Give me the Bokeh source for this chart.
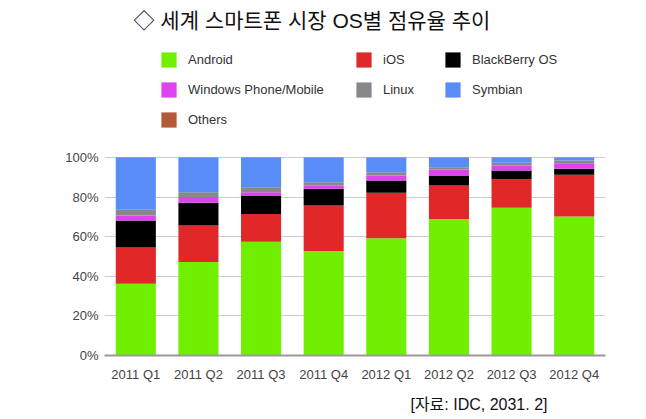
from bokeh.plotting import figure
from bokeh.models import (Legend, LegendItem, FixedTicker, PrintfTickFormatter,
                          Title, ColumnDataSource, FactorRange, Label)
from bokeh.embed import file_html
from bokeh.resources import INLINE

quarters = ["2011 Q1", "2011 Q2", "2011 Q3", "2011 Q4",
            "2012 Q1", "2012 Q2", "2012 Q3", "2012 Q4"]
android = [36.3, 47.2, 57.5, 52.8, 59.2, 69.0, 74.6, 70.2]
ios = [18.2, 18.5, 14.0, 23.0, 23.0, 16.9, 14.6, 21.1]
blackberry = [13.7, 11.4, 9.3, 8.4, 6.2, 4.7, 4.2, 3.0]
windows = [2.5, 2.9, 1.7, 1.7, 2.5, 3.3, 2.6, 2.8]
linux = [2.9, 2.5, 2.5, 1.6, 1.7, 1.2, 1.3, 1.4]
symbian = [26.2, 17.3, 14.8, 12.3, 7.2, 4.7, 2.5, 1.3]
others = [0.2, 0.2, 0.2, 0.2, 0.2, 0.2, 0.2, 0.2]
y_ticks = [0, 20, 40, 60, 80, 100]

series = ["Android", "iOS", "BlackBerry OS", "Windows Phone/Mobile",
          "Linux", "Symbian", "Others"]
colors = ["#70f000", "#e02828", "#000000", "#dd44ee", "#888888",
          "#5a8cf8", "#b45a36"]

data = dict(q=quarters)
for name, vals in zip(series, [android, ios, blackberry, windows, linux,
                               symbian, others]):
    data[name] = vals
src = ColumnDataSource(data)

LAT = "'Liberation Sans', 'Noto Sans CJK KR', sans-serif"

# frame spans from the top of the picture down to the 0% line;
# 100% sits 198 px above the baseline, the rest is headroom for title/legend
FRAME_H = 355
PX_PER_100 = 198
y_end = 100 * FRAME_H / PX_PER_100

p = figure(frame_width=501, frame_height=FRAME_H, title=None,
           x_range=FactorRange(*quarters), y_range=(0, y_end),
           output_backend="svg", toolbar_location=None,
           min_border_left=104, min_border_right=35, min_border_top=0,
           min_border_bottom=0)
p.x_range.range_padding = 0

rs = p.vbar_stack(series, x="q", width=0.64, source=src, color=colors,
                  line_width=0)
rmap = dict(zip(series, rs))

p.add_layout(Label(x=29, y=FRAME_H - 20, x_units="screen", y_units="screen",
                   text="◇ 세계 스마트폰 시장 OS별 점유율 추이",
                   text_font=LAT, text_font_size="21px",
                   text_color="#111111", text_baseline="middle",
                   text_align="left"))

columns = [(["Android", "Windows Phone/Mobile", "Others"], (55, 226.5)),
           (["iOS", "Linux"], (250, 256.5)),
           (["BlackBerry OS", "Symbian"], (339, 256.5))]
for names, loc in columns:
    lg = Legend(items=[LegendItem(label=n, renderers=[rmap[n]]) for n in names],
                location=loc, orientation="vertical", padding=0, margin=0,
                label_text_font=LAT, label_text_font_size="13px",
                label_text_color="#333333", glyph_width=19, glyph_height=19,
                label_standoff=10, spacing=11, border_line_color=None,
                background_fill_alpha=0)
    p.add_layout(lg)

p.yaxis.ticker = FixedTicker(ticks=y_ticks)
p.yaxis.formatter = PrintfTickFormatter(format="%d%%")
p.yaxis.axis_line_color = None
p.yaxis.major_tick_line_color = None
p.yaxis.minor_tick_line_color = None
p.yaxis.major_tick_out = 0
p.yaxis.minor_tick_out = 0
p.yaxis.major_label_standoff = 6
p.yaxis.major_label_text_font = LAT
p.yaxis.major_label_text_font_size = "13px"
p.yaxis.major_label_text_color = "#444444"

p.xaxis.axis_line_color = "#999999"
p.xaxis.axis_line_width = 2
p.xaxis.major_tick_line_color = None
p.xaxis.minor_tick_line_color = None
p.xaxis.major_label_text_font = LAT
p.xaxis.major_label_text_font_size = "13px"
p.xaxis.major_label_text_color = "#444444"

p.xgrid.grid_line_color = None
p.ygrid.grid_line_color = "#cccccc"
p.ygrid.ticker = FixedTicker(ticks=y_ticks)
p.outline_line_color = None

p.add_layout(Title(text="[자료: IDC, 2031. 2]", align="right", offset=58,
                   standoff=19, text_font=LAT, text_font_size="16px",
                   text_font_style="normal", text_color="#111111"), "below")

open("out.html", "w").write(file_html(p, INLINE))
